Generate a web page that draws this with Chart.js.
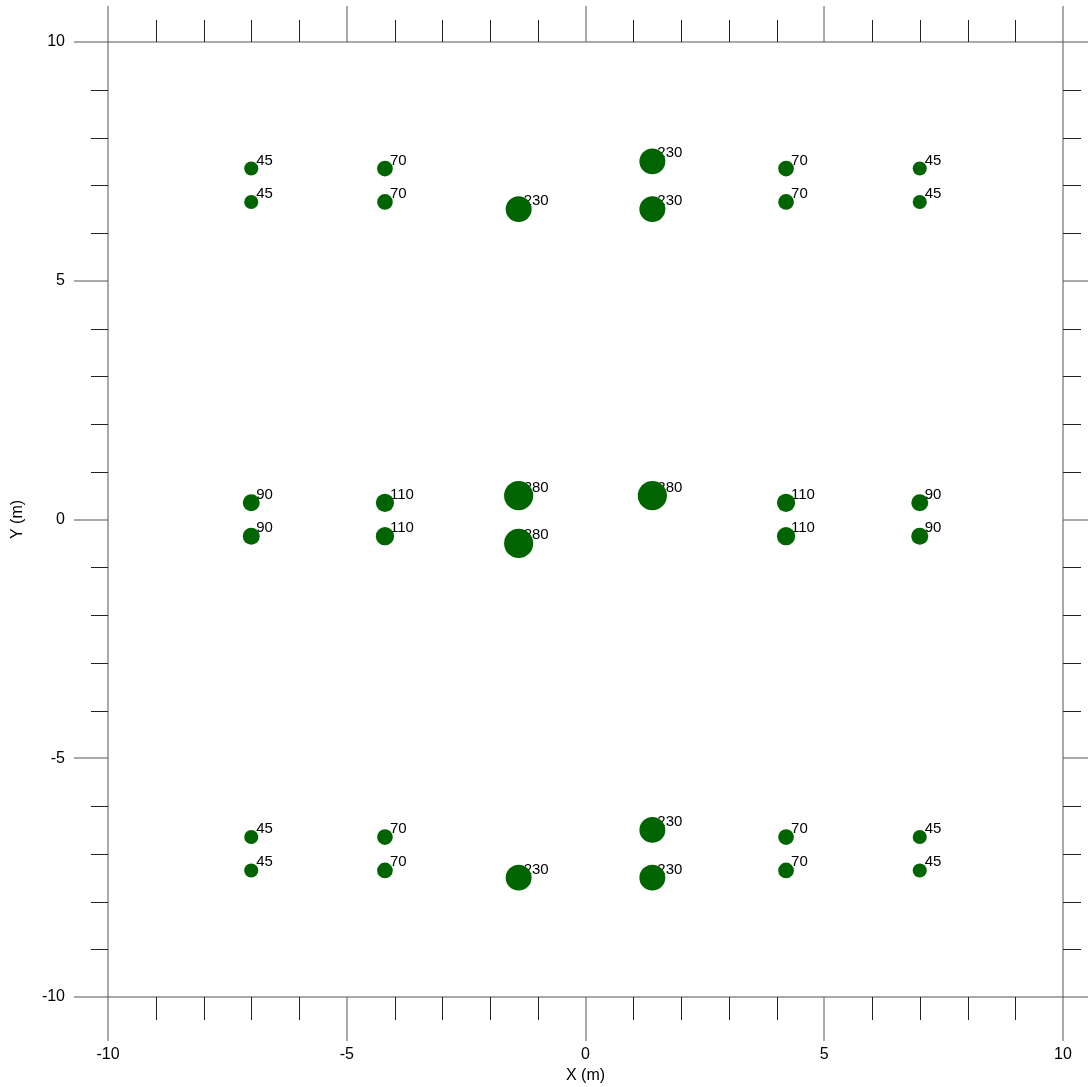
<!DOCTYPE html>
<html>
<head>
<meta charset="utf-8">
<script src="https://cdn.jsdelivr.net/npm/chart.js@4/dist/chart.umd.min.js"></script>
<style>
  html, body { margin: 0; padding: 0; background: #fff; }
  #wrap { width: 1088px; height: 1087px; }
</style>
</head>
<body>
<div id="wrap"><canvas id="c" width="1088" height="1087"></canvas></div>
<script>
// Load positions (m) and load values for each marker
const pointX = [
  -7, -7, -4.2, -4.2, -1.4, 1.4, 1.4, 4.2, 4.2, 7, 7,
  -7, -7, -4.2, -4.2, -1.4, -1.4, 1.4, 4.2, 4.2, 7, 7,
  -7, -7, -4.2, -4.2, -1.4, 1.4, 1.4, 4.2, 4.2, 7, 7
];
const pointY = [
  7.35, 6.65, 7.35, 6.65, 6.5, 7.5, 6.5, 7.35, 6.65, 7.35, 6.65,
  0.35, -0.35, 0.35, -0.35, 0.5, -0.5, 0.5, 0.35, -0.35, 0.35, -0.35,
  -6.65, -7.35, -6.65, -7.35, -7.5, -6.5, -7.5, -6.65, -7.35, -6.65, -7.35
];
const loadValues = [
  45, 45, 70, 70, 230, 230, 230, 70, 70, 45, 45,
  90, 90, 110, 110, 280, 280, 280, 110, 110, 90, 90,
  45, 45, 70, 70, 230, 230, 230, 70, 70, 45, 45
];
const axisTicks = [-10, -5, 0, 5, 10];

const FONT = '"Liberation Sans", Arial, Helvetica, sans-serif';
const MARKER = '#006400';

const points = pointX.map((x, i) => ({ x: x, y: pointY[i], v: loadValues[i] }));

// Value labels sit up-right of each marker, underneath the marker itself
const valueLabels = {
  id: 'valueLabels',
  beforeDatasetsDraw(chart) {
    const ctx = chart.ctx;
    const meta = chart.getDatasetMeta(0);
    ctx.save();
    ctx.font = '15px ' + FONT;
    ctx.fillStyle = '#000';
    ctx.textAlign = 'left';
    ctx.textBaseline = 'alphabetic';
    meta.data.forEach((el, i) => {
      ctx.fillText(String(loadValues[i]), el.x + 5, el.y - 4);
    });
    ctx.restore();
  }
};

// Frame with outward tick marks on all four sides; every 5 m gets a long tick
const frameTicks = {
  id: 'frameTicks',
  afterDraw(chart) {
    const ctx = chart.ctx;
    const xs = chart.scales.x, ys = chart.scales.y;
    const a = chart.chartArea;
    const L = Math.round(a.left), R = Math.round(a.right);
    const T = Math.round(a.top), B = Math.round(a.bottom);
    ctx.save();
    ctx.lineWidth = 1;
    const line = (x1, y1, x2, y2, color) => {
      ctx.strokeStyle = color;
      ctx.beginPath();
      ctx.moveTo(x1, y1);
      ctx.lineTo(x2, y2);
      ctx.stroke();
    };
    // box
    line(L, T, R, T, '#555');
    line(L, B, R, B, '#555');
    line(L, T, L, B, '#555');
    line(R, T, R, B, '#555');
    for (let v = -10; v <= 10; v++) {
      const major = v % 5 === 0;
      const px = Math.round(xs.getPixelForValue(v));
      const py = Math.round(ys.getPixelForValue(v));
      const off = major ? 0 : 0.5;
      const col = major ? '#555' : '#222';
      // bottom / top
      line(px + off, B, px + off, B + (major ? 44 : 23), col);
      line(px + off, T, px + off, T - (major ? 36 : 22), col);
      // left / right
      line(L, py + off, L - (major ? 34 : 17), py + off, col);
      line(R, py + off, R + (major ? 34 : 18), py + off, col);
    }
    ctx.restore();
  }
};

function zeroPadding(scale) {
  scale.paddingLeft = 0;
  scale.paddingRight = 0;
  scale.paddingTop = 0;
  scale.paddingBottom = 0;
}

new Chart(document.getElementById('c'), {
  type: 'scatter',
  data: {
    datasets: [{
      data: points,
      pointBackgroundColor: MARKER,
      pointBorderColor: MARKER,
      pointBorderWidth: 0,
      pointRadius: (c) => 5.6 + 0.032 * c.raw.v,
      pointHoverRadius: (c) => 5.6 + 0.032 * c.raw.v,
      showLine: false
    }]
  },
  options: {
    responsive: false,
    animation: false,
    events: [],
    layout: { padding: { top: 42, right: 25, left: 0, bottom: 0 } },
    plugins: { legend: { display: false }, tooltip: { enabled: false } },
    scales: {
      x: {
        type: 'linear',
        position: 'bottom',
        min: -10, max: 10,
        afterBuildTicks(scale) { scale.ticks = axisTicks.map(v => ({ value: v })); },
        afterFit(scale) { scale.height = 90; zeroPadding(scale); },
        grid: { display: false, drawTicks: false, tickLength: 0 },
        border: { display: false },
        ticks: { font: { family: FONT, size: 16 }, color: '#000', padding: 48, maxRotation: 0, autoSkip: false },
        title: { display: true, text: 'X (m)', font: { family: FONT, size: 16 }, color: '#000', padding: { top: 0, bottom: 2 } }
      },
      y: {
        type: 'linear',
        position: 'left',
        min: -10, max: 10,
        afterBuildTicks(scale) { scale.ticks = axisTicks.map(v => ({ value: v })); },
        afterFit(scale) { scale.width = 108; zeroPadding(scale); },
        grid: { display: false, drawTicks: false, tickLength: 0 },
        border: { display: false },
        ticks: { font: { family: FONT, size: 16 }, color: '#000', padding: 43, autoSkip: false },
        title: { display: true, text: 'Y (m)', font: { family: FONT, size: 16 }, color: '#000', padding: { top: 8, bottom: 0 } }
      }
    }
  },
  plugins: [valueLabels, frameTicks]
});
</script>
</body>
</html>
